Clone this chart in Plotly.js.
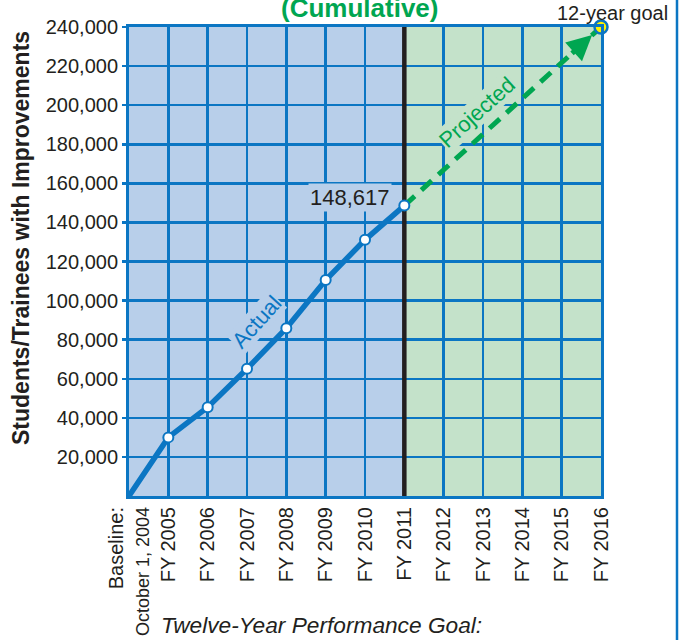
<!DOCTYPE html>
<html>
<head>
<meta charset="utf-8">
<script src="https://cdn.plot.ly/plotly-3.0.1.min.js"></script>
<style>
html,body{margin:0;padding:0;background:#fff;}
#chart{width:683px;height:640px;}
</style>
</head>
<body>
<div id="chart"></div>
<script>
// ---- data ----
const categories = ["Baseline:<br><span style=\"font-size:18px\">October 1, 2004</span>", "FY 2005", "FY 2006", "FY 2007", "FY 2008", "FY 2009", "FY 2010", "FY 2011", "FY 2012", "FY 2013", "FY 2014", "FY 2015", "FY 2016"];
const actualValues = [0, 30000, 45400, 65100, 85900, 110500, 131100, 148617];
const projectedFrom = 148617;
const goalValue = 240000;
const yTickVals = [20000, 40000, 60000, 80000, 100000, 120000, 140000, 160000, 180000, 200000, 220000, 240000];
const yTickText = ["20,000", "40,000", "60,000", "80,000", "100,000", "120,000", "140,000", "160,000", "180,000", "200,000", "220,000", "240,000"];

// ---- derived ----
const xIdx = categories.map((_, i) => i);
const actualX = actualValues.map((_, i) => i);
const lastActual = actualX.length - 1;
const lastIdx = categories.length - 1;
const projX = [lastActual, lastIdx];
const projY = [projectedFrom, goalValue];

const BLUE = "#0b76c3";
const GREEN = "#00a651";
const BGBLUE = "#b8cfea";
const BGGREEN = "#c4e2ca";
const FONT = "Liberation Sans, Arial, sans-serif";

const L = 129, R = 82, T = 27, B = 144, W = 683, H = 640;
const pw = W - L - R, ph = H - T - B;
const px = x => (x - L) / pw;
const py = y => (H - B - y) / ph;

const traces = [
  {
    x: projX, y: projY, mode: "lines", type: "scatter",
    line: {color: GREEN, width: 5, dash: "14px,9px"},
    hoverinfo: "skip", cliponaxis: false
  },
  {
    x: actualX, y: actualValues, mode: "lines", type: "scatter",
    line: {color: BLUE, width: 5.5},
    hoverinfo: "skip", cliponaxis: false
  },
  {
    x: actualX.slice(1), y: actualValues.slice(1), mode: "markers", type: "scatter",
    marker: {color: "#ffffff", size: 10, line: {color: BLUE, width: 2}},
    hoverinfo: "skip", cliponaxis: false
  },
  {
    x: [lastIdx], y: [goalValue], mode: "markers", type: "scatter",
    marker: {color: "#fff200", size: 13, line: {color: BLUE, width: 2.5}},
    hoverinfo: "skip", cliponaxis: false
  }
];

const headFrac = 0.155;
const C = {xanchor: "center", yanchor: "middle", showarrow: false};
const layout = {
  width: W, height: H,
  margin: {l: L, r: R, t: T, b: B, pad: 0},
  paper_bgcolor: "#ffffff",
  plot_bgcolor: "#ffffff",
  showlegend: false,
  font: {family: FONT, color: "#231f20", size: 20},
  xaxis: {
    range: [0, lastIdx],
    tickmode: "array", tickvals: xIdx, ticktext: categories,
    tickangle: -90,
    tickfont: {size: 20, color: "#231f20"},
    showgrid: true, gridcolor: BLUE, gridwidth: 2.5,
    showline: true, linecolor: BLUE, linewidth: 3, mirror: true,
    zeroline: false, ticks: "", fixedrange: true
  },
  yaxis: {
    range: [0, goalValue],
    tickmode: "array", tickvals: yTickVals, ticktext: yTickText,
    tickfont: {size: 20, color: "#231f20"},
    showgrid: true, gridcolor: BLUE, gridwidth: 2.5,
    showline: true, linecolor: BLUE, linewidth: 3, mirror: true,
    zeroline: false, ticks: "outside", ticklen: 4, tickcolor: BLUE, tickwidth: 2.5,
    fixedrange: true
  },
  shapes: [
    {type: "rect", xref: "x", yref: "y", x0: 0, x1: lastActual, y0: 0, y1: goalValue, fillcolor: BGBLUE, line: {width: 0}, layer: "below"},
    {type: "rect", xref: "x", yref: "y", x0: lastActual, x1: lastIdx, y0: 0, y1: goalValue, fillcolor: BGGREEN, line: {width: 0}, layer: "below"},
    {type: "line", xref: "x", yref: "y", x0: lastActual, x1: lastActual, y0: 0, y1: goalValue, line: {color: "#231f20", width: 4.5}, layer: "between"},
    {type: "line", xref: "paper", yref: "paper", x0: px(677), x1: px(677), y0: py(H), y1: py(0), line: {color: BLUE, width: 2.5}}
  ],
  annotations: [
    {
      x: lastIdx, y: goalValue, xref: "x", yref: "y",
      ax: lastIdx - headFrac * (lastIdx - lastActual), ay: goalValue - headFrac * (goalValue - projectedFrom),
      axref: "x", ayref: "y", text: "", showarrow: true,
      arrowhead: 2, arrowsize: 1, arrowwidth: 5, arrowcolor: GREEN, standoff: 12
    },
    Object.assign({}, C, {
      xref: "paper", yref: "paper", x: px(359), y: py(8),
      text: "<b>(Cumulative)</b>",
      font: {size: 26, color: GREEN}
    }),
    Object.assign({}, C, {
      xref: "paper", yref: "paper", x: px(612), y: py(13),
      text: "12-year goal",
      font: {size: 20, color: "#231f20"}
    }),
    Object.assign({}, C, {
      xref: "paper", yref: "paper", x: px(21), y: py(238),
      text: "<b>Students/Trainees with Improvements</b>", textangle: -90,
      font: {size: 23, color: "#231f20"}
    }),
    Object.assign({}, C, {
      xref: "paper", yref: "paper", x: px(159), y: py(625), xanchor: "left",
      text: "<i>Twelve-Year Performance Goal:</i>",
      font: {size: 22.7, color: "#231f20"}
    }),
    Object.assign({}, C, {
      xref: "x", yref: "y", x: (lastActual - 0.31), y: 153000, xanchor: "right",
      text: "148,617", bgcolor: BGBLUE, borderpad: 1,
      font: {size: 22, color: "#231f20"}
    }),
    Object.assign({}, C, {
      xref: "paper", yref: "paper", x: px(477), y: py(113),
      text: "Projected", textangle: -42, bgcolor: BGGREEN, borderpad: 0,
      font: {size: 22, color: GREEN}
    }),
    Object.assign({}, C, {
      xref: "paper", yref: "paper", x: px(256), y: py(322),
      text: "Actual", textangle: -48, bgcolor: BGBLUE, borderpad: 0,
      font: {size: 22, color: BLUE}
    })
  ]
};

Plotly.newPlot("chart", traces, layout, {staticPlot: true, displayModeBar: false});
</script>
</body>
</html>
